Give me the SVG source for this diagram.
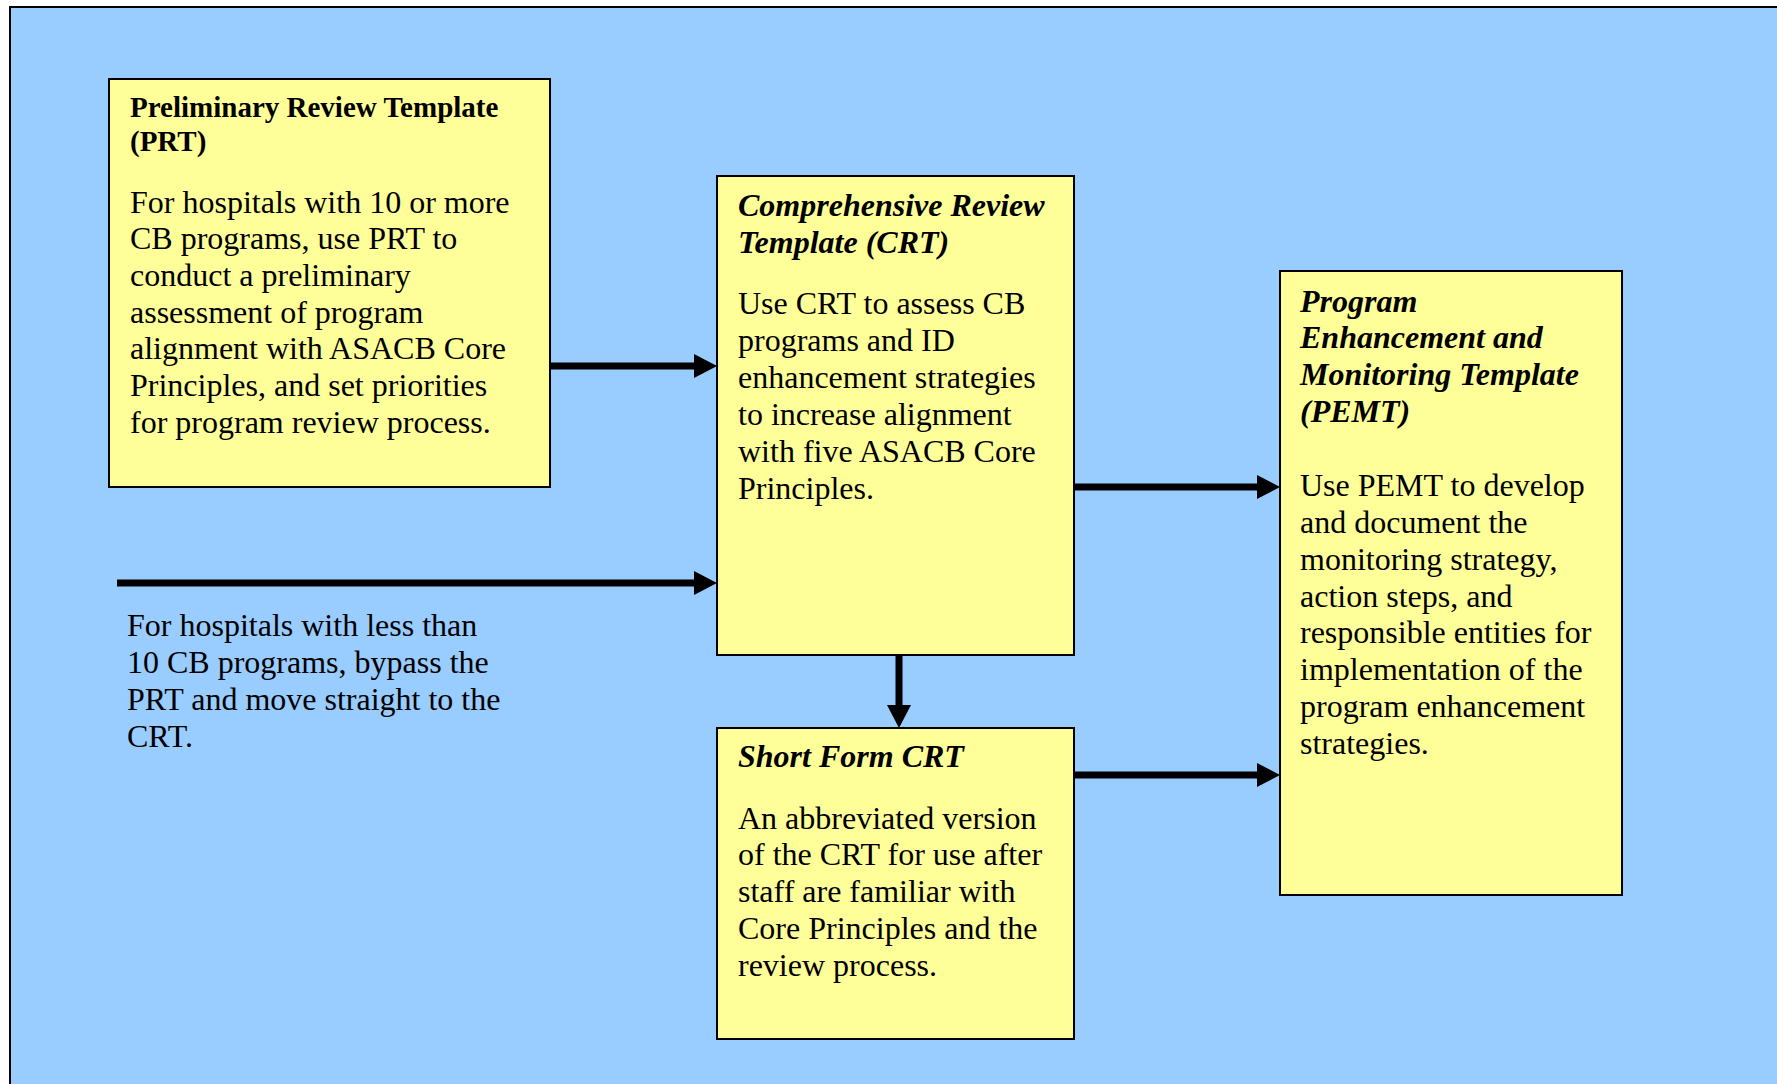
<svg xmlns="http://www.w3.org/2000/svg" width="1777" height="1084" viewBox="0 0 1777 1084">
<defs>
<style>
.box{fill:#FFFF99;stroke:#000;stroke-width:2}
.t{font-family:"Liberation Serif","Times New Roman",serif;font-size:32px;fill:#000}
.h{font-weight:bold;font-style:italic}
.hp{font-weight:bold;font-size:29px}
.c{stroke:#000;stroke-width:7;fill:none}
</style>
<marker id="ah" markerUnits="userSpaceOnUse" markerWidth="23" markerHeight="24" refX="2" refY="12" orient="auto">
<path d="M0,0 L23,12 L0,24 z" fill="#000"/>
</marker>
</defs>
<rect x="0" y="0" width="1777" height="1084" fill="#fff"/>
<rect x="10" y="7" width="1780" height="1090" fill="#99CCFF" stroke="#000" stroke-width="2"/>
<g id="connectors">
<line class="c" x1="550" y1="366" x2="696" y2="366" marker-end="url(#ah)"/>
<line class="c" x1="117" y1="583" x2="696" y2="583" marker-end="url(#ah)"/>
<line class="c" x1="1074" y1="487" x2="1259" y2="487" marker-end="url(#ah)"/>
<line class="c" x1="1074" y1="775" x2="1259" y2="775" marker-end="url(#ah)"/>
<line class="c" x1="899" y1="655" x2="899" y2="707" marker-end="url(#ah)"/>
</g>
<g id="prt">
<rect class="box" x="109" y="79" width="441" height="408"/>
<text class="t hp" x="130" y="117">Preliminary Review Template</text>
<text class="t hp" x="130" y="151">(PRT)</text>
<text class="t" x="130" y="213">For hospitals with 10 or more</text>
<text class="t" x="130" y="249">CB programs, use PRT to</text>
<text class="t" x="130" y="286">conduct a preliminary</text>
<text class="t" x="130" y="323">assessment of program</text>
<text class="t" x="130" y="359">alignment with ASACB Core</text>
<text class="t" x="130" y="396">Principles, and set priorities</text>
<text class="t" x="130" y="433">for program review process.</text>
</g>
<g id="crt">
<rect class="box" x="717" y="176" width="357" height="479"/>
<text class="t h" x="738" y="216">Comprehensive Review</text>
<text class="t h" x="738" y="253">Template (CRT)</text>
<text class="t" x="738" y="314">Use CRT to assess CB</text>
<text class="t" x="738" y="351">programs and ID</text>
<text class="t" x="738" y="388">enhancement strategies</text>
<text class="t" x="738" y="425">to increase alignment</text>
<text class="t" x="738" y="462">with five ASACB Core</text>
<text class="t" x="738" y="499">Principles.</text>
</g>
<g id="pemt">
<rect class="box" x="1280" y="271" width="342" height="624"/>
<text class="t h" x="1300" y="312">Program</text>
<text class="t h" x="1300" y="348">Enhancement and</text>
<text class="t h" x="1300" y="385">Monitoring Template</text>
<text class="t h" x="1300" y="422">(PEMT)</text>
<text class="t" x="1300" y="496">Use PEMT to develop</text>
<text class="t" x="1300" y="533">and document the</text>
<text class="t" x="1300" y="570">monitoring strategy,</text>
<text class="t" x="1300" y="607">action steps, and</text>
<text class="t" x="1300" y="643">responsible entities for</text>
<text class="t" x="1300" y="680">implementation of the</text>
<text class="t" x="1300" y="717">program enhancement</text>
<text class="t" x="1300" y="754">strategies.</text>
</g>
<g id="shortform">
<rect class="box" x="717" y="728" width="357" height="311"/>
<text class="t h" x="738" y="767">Short Form CRT</text>
<text class="t" x="738" y="829">An abbreviated version</text>
<text class="t" x="738" y="865">of the CRT for use after</text>
<text class="t" x="738" y="902">staff are familiar with</text>
<text class="t" x="738" y="939">Core Principles and the</text>
<text class="t" x="738" y="976">review process.</text>
</g>
<g id="bypass-note">
<text class="t" x="127" y="636">For hospitals with less than</text>
<text class="t" x="127" y="673">10 CB programs, bypass the</text>
<text class="t" x="127" y="710">PRT and move straight to the</text>
<text class="t" x="127" y="747">CRT.</text>
</g>
</svg>
